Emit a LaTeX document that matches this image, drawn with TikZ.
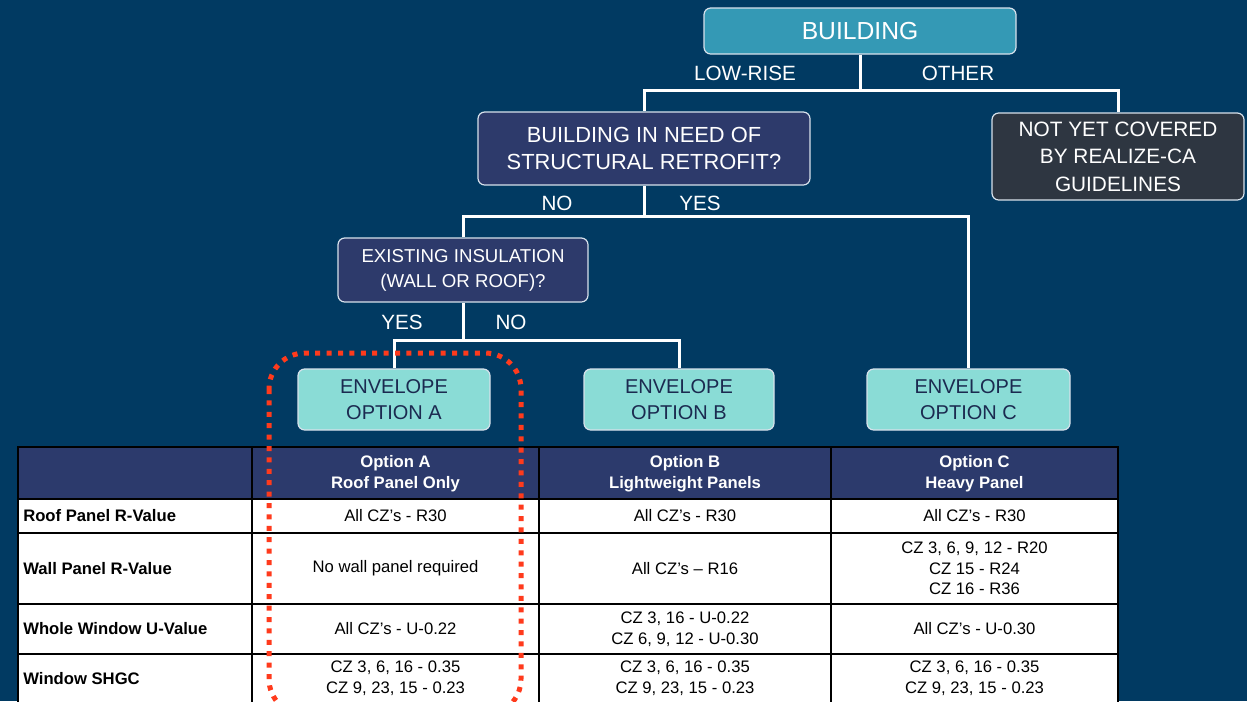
\documentclass[tikz,border=0pt]{standalone}
\usepackage{fontspec}
\setmainfont{Liberation Sans}
\definecolor{bg}{RGB}{1,58,98}
\definecolor{bldg}{RGB}{52,153,181}
\definecolor{indigo}{RGB}{45,58,107}
\definecolor{darkgray}{RGB}{46,54,65}
\definecolor{lteal}{RGB}{138,220,214}
\definecolor{opttext}{RGB}{27,42,80}
\definecolor{thead}{RGB}{44,58,108}
\definecolor{redline}{RGB}{255,58,28}
\definecolor{boxline}{RGB}{215,225,235}
\begin{document}
\begin{tikzpicture}[x=0.75pt,y=-0.75pt,
  box/.style={draw=boxline,line width=0.9pt,rounded corners=5pt,align=center,inner sep=0pt},
  conn/.style={draw=white,line width=2.25pt,line join=miter},
  lbl/.style={text=white,font=\fontsize{15.5}{18}\selectfont,inner sep=0pt},
  cell/.style={align=center,inner sep=0pt,font=\fontsize{12.5}{15.5}\selectfont},
  hcell/.style={align=center,inner sep=0pt,text=white,font=\fontsize{12.5}{15.5}\selectfont\bfseries},
  rcell/.style={anchor=west,inner sep=0pt,font=\fontsize{12.5}{15.5}\selectfont\bfseries},
  tline/.style={draw=black,line width=1.1pt}]
\useasboundingbox (0,0) rectangle (1247,701);
\clip (0,0) rectangle (1247,701);
\fill[bg] (0,0) rectangle (1247,701);

% flowchart boxes
\node[box,fill=bldg,text=white,minimum width={312*0.75pt},minimum height={46*0.75pt},
  font=\fontsize{18.5}{22}\selectfont] (building) at (860,31) {BUILDING};
\node[box,fill=indigo,text=white,minimum width={332*0.75pt},minimum height={73*0.75pt},
  font=\fontsize{16.4}{20}\selectfont] (retro) at (644,148.5) {BUILDING IN NEED OF\\STRUCTURAL RETROFIT?};
\node[box,fill=darkgray,text=white,minimum width={252*0.75pt},minimum height={87*0.75pt},
  font=\fontsize{15.6}{20.6}\selectfont] (notyet) at (1118,156.5) {NOT YET COVERED\\BY REALIZE-CA\\GUIDELINES};
\node[box,fill=indigo,text=white,minimum width={250*0.75pt},minimum height={64*0.75pt},
  font=\fontsize{14}{18.75}\selectfont] (exist) at (463,270) {EXISTING INSULATION\\(WALL OR ROOF)?};
\tikzset{optbox/.style={box,fill=lteal,text=opttext,minimum height={61*0.75pt},font=\fontsize{15}{20}\selectfont}}
\node[optbox,minimum width={192*0.75pt}] (optA) at (394,399.5) {ENVELOPE\\OPTION A};
\node[optbox,minimum width={190*0.75pt}] (optB) at (679,399.5) {ENVELOPE\\OPTION B};
\node[optbox,minimum width={203*0.75pt}] (optC) at (968.5,399.5) {ENVELOPE\\OPTION C};

% connectors
\coordinate (j1) at (860,90);
\coordinate (j2) at (644,216);
\coordinate (j3) at (463,340);
\draw[conn] (building.south) -- (j1) -| (retro.north);
\draw[conn] (j1) -| (notyet.north);
\draw[conn] (retro.south) -- (j2) -| (exist.north);
\draw[conn] (j2) -| (optC.north);
\draw[conn] (exist.south) -- (j3) -| (optA.north);
\draw[conn] (j3) -| (optB.north);

% branch labels
\node[lbl] (lowrise) at (745,73) {LOW-RISE};
\node[lbl] (other) at (958,73) {OTHER};
\node[lbl] (no1) at (557,203) {NO};
\node[lbl] (yes1) at (700,203) {YES};
\node[lbl] (yes2) at (402,322) {YES};
\node[lbl] (no2) at (511,322) {NO};

% table
\fill[thead] (18,447) rectangle (1118,499);
\fill[white] (18,499) rectangle (1118,720);
\draw[tline] (18,447) rectangle (1118,720);
\foreach \yy in {499,533,604,654} \draw[tline] (18,\yy) -- (1118,\yy);
\foreach \xx in {252,539,831} \draw[tline] (\xx,447) -- (\xx,720);

\node[hcell] (hA) at (395.5,473.5) {Option A\\Roof Panel Only};
\node[hcell] (hB) at (685,473.5) {Option B\\Lightweight Panels};
\node[hcell] (hC) at (974.5,473.5) {Option C\\Heavy Panel};

\node[rcell] (r1) at (23,516) {Roof Panel R-Value};
\node[rcell] (r2) at (23,568.5) {Wall Panel R-Value};
\node[rcell] (r3) at (23,629) {Whole Window U-Value};
\node[rcell] (r4) at (23,678.5) {Window SHGC};

\node[cell] (a1) at (395.5,516) {All CZ’s - R30};
\node[cell] (b1) at (685,516) {All CZ’s - R30};
\node[cell] (c1) at (974.5,516) {All CZ’s - R30};
\node[cell] (a2) at (395.5,568.5) {No wall panel required};
\node[cell] (b2) at (685,568.5) {All CZ’s – R16};
\node[cell] (c2) at (974.5,568.5) {CZ 3, 6, 9, 12 - R20\\CZ 15 - R24\\CZ 16 - R36};
\node[cell] (a3) at (395.5,629) {All CZ’s - U-0.22};
\node[cell] (b3) at (685,629) {CZ 3, 16 - U-0.22\\CZ 6, 9, 12 - U-0.30};
\node[cell] (c3) at (974.5,629) {All CZ’s - U-0.30};
\node[cell] (a4) at (395.5,678.5) {CZ 3, 6, 16 - 0.35\\CZ 9, 23, 15 - 0.23};
\node[cell] (b4) at (685,678.5) {CZ 3, 6, 16 - 0.35\\CZ 9, 23, 15 - 0.23};
\node[cell] (c4) at (974.5,678.5) {CZ 3, 6, 16 - 0.35\\CZ 9, 23, 15 - 0.23};

% red dotted highlight
\draw[redline,line width=3.75pt,dash pattern=on 3.75pt off 4.8pt,rounded corners=27pt]
  (269,353) rectangle (521,715);
\end{tikzpicture}
\end{document}
